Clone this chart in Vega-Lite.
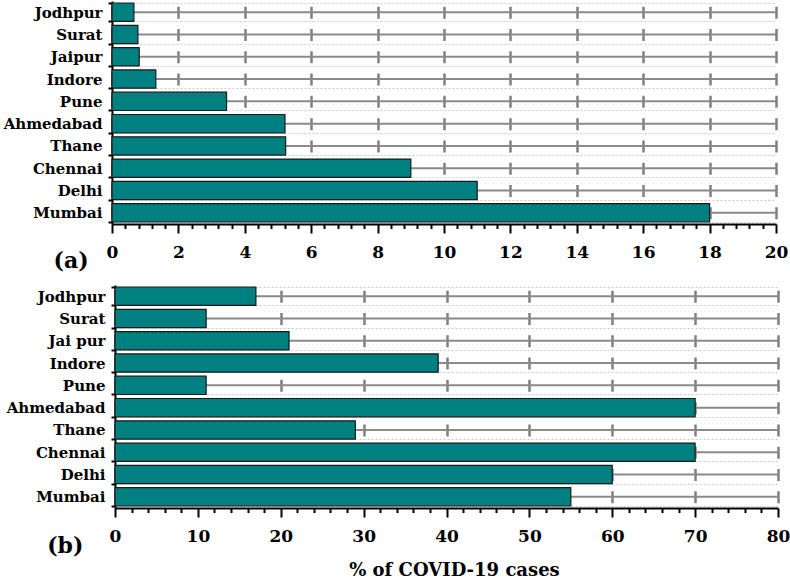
{
  "$schema": "https://vega.github.io/schema/vega-lite/v6.json",
  "background": "white",
  "padding": {"left": 3, "top": -6, "right": 0, "bottom": 0},
  "config": {
    "font": "DejaVu Serif",
    "view": {"stroke": null},
    "axis": {"labelFont": "DejaVu Serif", "titleFont": "DejaVu Serif"},
    "title": {"font": "DejaVu Serif"}
  },
  "bounds": "flush",
  "spacing": 61,
  "title": {"text": "% of COVID-19 cases", "orient": "bottom", "anchor": "middle", "font": "DejaVu Serif", "fontSize": 18, "fontWeight": "bold", "color": "black", "offset": 5, "dx": 58},
  "vconcat": [
    {
      "width": 664,
      "height": 223,
      "data": {"values": [
        {"city": "Jodhpur", "value": 0.66},
        {"city": "Surat", "value": 0.78},
        {"city": "Jaipur", "value": 0.82},
        {"city": "Indore", "value": 1.32},
        {"city": "Pune", "value": 3.45},
        {"city": "Ahmedabad", "value": 5.21},
        {"city": "Thane", "value": 5.23},
        {"city": "Chennai", "value": 9.0},
        {"city": "Delhi", "value": 11.0},
        {"city": "Mumbai", "value": 18.0}
      ]},
      "layer": [
        {
          "mark": {"type": "rule", "color": "#8a8a8a", "strokeWidth": 2},
          "encoding": {
            "y": {"field": "city", "type": "nominal", "sort": null,
              "scale": {"paddingInner": 0.18, "paddingOuter": 0.09},
              "axis": {"title": null, "tickBand": "extent", "tickSize": 4, "tickWidth": 2, "tickColor": "black", "domainColor": "black", "domainWidth": 2, "labelFontSize": 15, "labelFontWeight": "bold", "labelColor": "black", "labelPadding": 6, "grid": true, "gridColor": "#c8c8c8", "gridDash": [2, 2], "gridWidth": 1}},
            "x": {"datum": 0, "type": "quantitative", "axis": {"orient": "bottom", "values": [0.4,0.8,1.2,1.6,2.4,2.8,3.2,3.6,4.4,4.8,5.2,5.6,6.4,6.8,7.2,7.6,8.4,8.8,9.2,9.6,10.4,10.8,11.2,11.6,12.4,12.8,13.2,13.6,14.4,14.8,15.2,15.6,16.4,16.8,17.2,17.6,18.4,18.8,19.2,19.6], "labels": false, "domain": false, "grid": false, "tickSize": 4.5, "tickWidth": 2, "tickColor": "black", "title": null}},
            "x2": {"datum": 20}
          }
        },
        {
          "mark": {"type": "bar", "color": "#008080", "stroke": "#1a1a1a", "strokeWidth": 1.2},
          "encoding": {
            "y": {"field": "city", "type": "nominal", "sort": null,
              "scale": {"paddingInner": 0.18, "paddingOuter": 0.09},
              "axis": {"title": null, "tickBand": "extent", "tickSize": 4, "tickWidth": 2, "tickColor": "black", "domainColor": "black", "domainWidth": 2, "labelFontSize": 15, "labelFontWeight": "bold", "labelColor": "black", "labelPadding": 6, "grid": true, "gridColor": "#c8c8c8", "gridDash": [2, 2], "gridWidth": 1}},
            "x": {"field": "value", "type": "quantitative",
              "scale": {"domain": [0, 20], "nice": false},
              "axis": {"orient": "bottom", "values": [0,2,4,6,8,10,12,14,16,18,20], "tickSize": 9, "tickWidth": 2, "tickColor": "black", "domainColor": "black", "domainWidth": 2, "labelFontSize": 17, "labelFontWeight": "bold", "labelColor": "black", "labelPadding": 11, "labelFlush": false, "labelOverlap": false, "grid": true, "gridColor": "#808080", "gridWidth": 2.5, "gridDash": [12, 10.3], "gridDashOffset": 17.15, "title": "(a)", "titleFontSize": 22, "titleFontWeight": "bold", "titleColor": "black", "titleAlign": "left", "titleBaseline": "alphabetic", "titleX": -59, "titleY": 43.5}}
          }
        }
      ],
      "resolve": {"axis": {"x": "independent"}}
    },
    {
      "width": 666,
      "height": 223,
      "data": {"values": [
        {"city": "Jodhpur", "value": 17},
        {"city": "Surat", "value": 11},
        {"city": "Jai pur", "value": 21},
        {"city": "Indore", "value": 39},
        {"city": "Pune", "value": 11},
        {"city": "Ahmedabad", "value": 70},
        {"city": "Thane", "value": 29},
        {"city": "Chennai", "value": 70},
        {"city": "Delhi", "value": 60},
        {"city": "Mumbai", "value": 55}
      ]},
      "layer": [
        {
          "mark": {"type": "rule", "color": "#8a8a8a", "strokeWidth": 2},
          "encoding": {
            "y": {"field": "city", "type": "nominal", "sort": null,
              "scale": {"paddingInner": 0.18, "paddingOuter": 0.09},
              "axis": {"title": null, "offset": -3, "tickBand": "extent", "tickSize": 4, "tickWidth": 2, "tickColor": "black", "domainColor": "black", "domainWidth": 2, "labelFontSize": 15, "labelFontWeight": "bold", "labelColor": "black", "labelPadding": 6, "grid": true, "gridColor": "#c8c8c8", "gridDash": [2, 2], "gridWidth": 1}},
            "x": {"datum": 0, "type": "quantitative", "axis": {"orient": "bottom", "values": [2,4,6,8,12,14,16,18,22,24,26,28,32,34,36,38,42,44,46,48,52,54,56,58,62,64,66,68,72,74,76,78], "labels": false, "domain": false, "grid": false, "tickSize": 4.5, "tickWidth": 2, "tickColor": "black", "title": null}},
            "x2": {"datum": 80}
          }
        },
        {
          "mark": {"type": "bar", "color": "#008080", "stroke": "#1a1a1a", "strokeWidth": 1.2},
          "encoding": {
            "y": {"field": "city", "type": "nominal", "sort": null,
              "scale": {"paddingInner": 0.18, "paddingOuter": 0.09},
              "axis": {"title": null, "offset": -3, "tickBand": "extent", "tickSize": 4, "tickWidth": 2, "tickColor": "black", "domainColor": "black", "domainWidth": 2, "labelFontSize": 15, "labelFontWeight": "bold", "labelColor": "black", "labelPadding": 6, "grid": true, "gridColor": "#c8c8c8", "gridDash": [2, 2], "gridWidth": 1}},
            "x": {"field": "value", "type": "quantitative",
              "scale": {"domain": [0, 80], "range": [3, 666], "nice": false},
              "axis": {"orient": "bottom", "values": [0,10,20,30,40,50,60,70,80], "tickSize": 9, "tickWidth": 2, "tickColor": "black", "domainColor": "black", "domainWidth": 2, "labelFontSize": 17, "labelFontWeight": "bold", "labelColor": "black", "labelPadding": 11, "labelFlush": false, "labelOverlap": false, "grid": true, "gridColor": "#808080", "gridWidth": 2.5, "gridDash": [12, 10.3], "gridDashOffset": 17.15, "title": "(b)", "titleFontSize": 22, "titleFontWeight": "bold", "titleColor": "black", "titleAlign": "left", "titleBaseline": "alphabetic", "titleX": -65.3, "titleY": 44.5}}
          }
        }
      ],
      "resolve": {"axis": {"x": "independent"}}
    }
  ]
}
